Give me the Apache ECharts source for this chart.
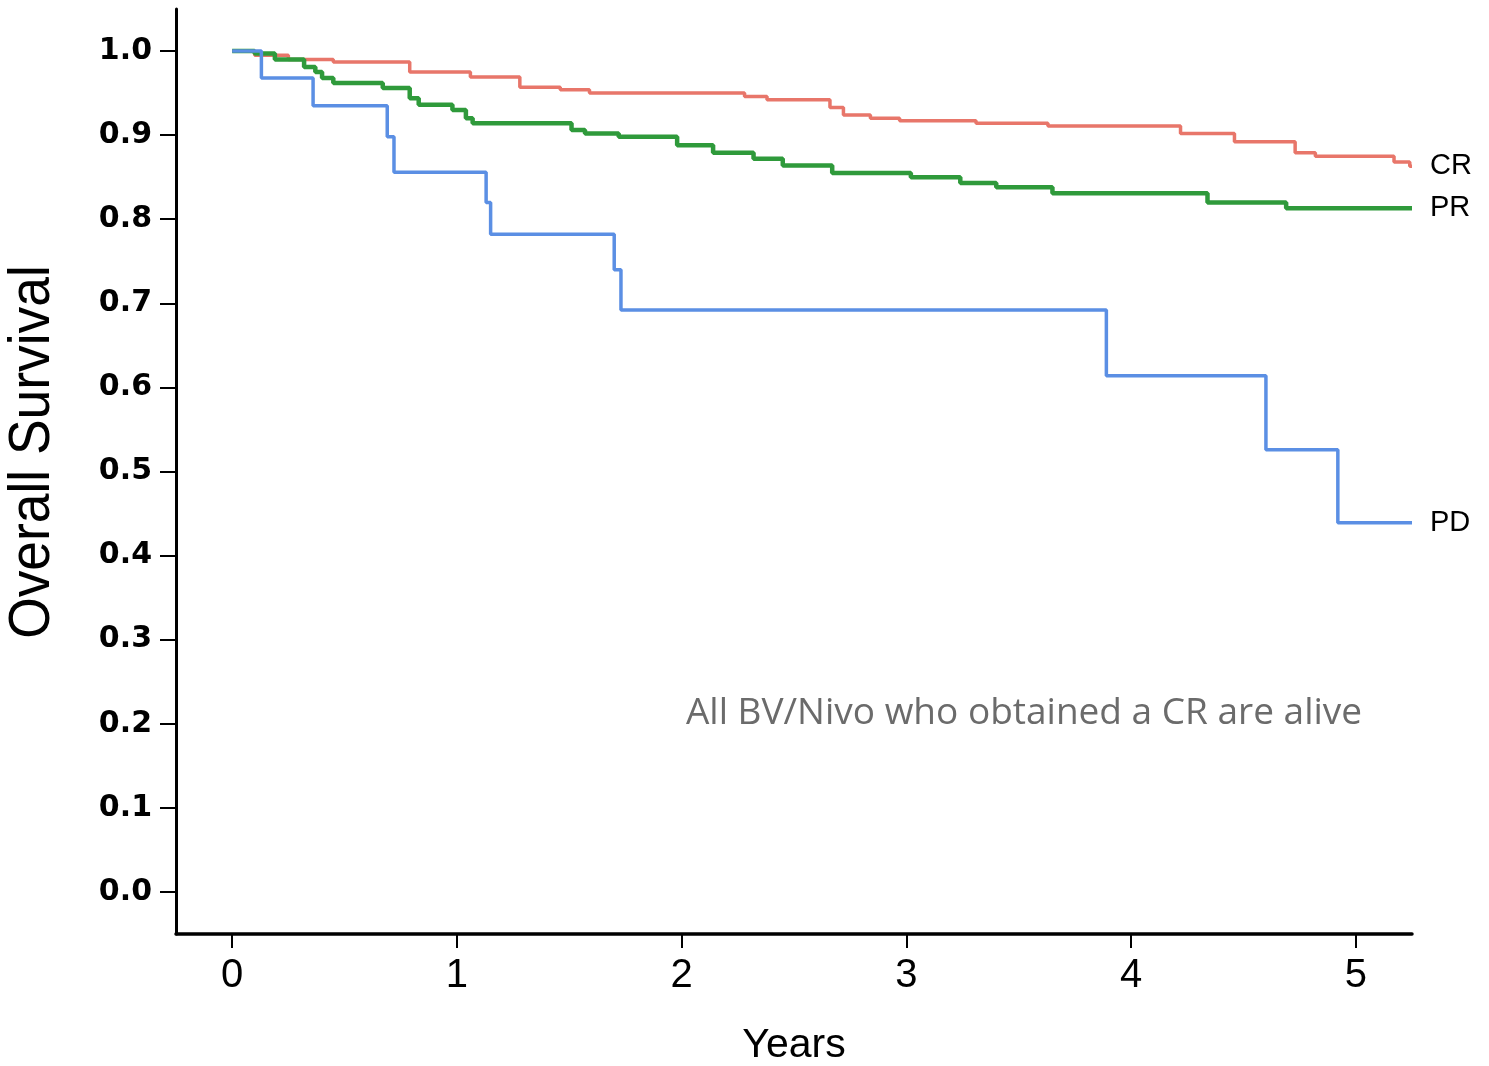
<!DOCTYPE html>
<html>
<head>
<meta charset="utf-8">
<script src="https://cdn.jsdelivr.net/npm/echarts@6/dist/echarts.min.js"></script>
<style>
html, body { margin: 0; padding: 0; background: #fff; }
#main { width: 1489px; height: 1066px; }
</style>
</head>
<body>
<div id="main"></div>
<script>
// Kaplan-Meier curves (years, survival)
var crTimes = [0, 0.10, 0.25, 0.45, 0.79, 1.06, 1.28, 1.46, 1.59, 2.28, 2.38, 2.66, 2.72, 2.84, 2.97, 3.31, 3.63, 4.22, 4.46, 4.73, 4.82, 5.17, 5.24, 5.25];
var crSurv  = [1.0, 0.995, 0.99, 0.987, 0.975, 0.969, 0.957, 0.954, 0.95, 0.946, 0.942, 0.933, 0.924, 0.92, 0.917, 0.914, 0.911, 0.902, 0.892, 0.879, 0.875, 0.868, 0.863, 0.863];

var prTimes = [0, 0.10, 0.19, 0.32, 0.37, 0.40, 0.45, 0.67, 0.79, 0.83, 0.98, 1.04, 1.07, 1.51, 1.57, 1.72, 1.98, 2.14, 2.32, 2.45, 2.67, 3.02, 3.24, 3.40, 3.65, 4.34, 4.69, 5.25];
var prSurv  = [1.0, 0.997, 0.99, 0.981, 0.975, 0.968, 0.962, 0.956, 0.944, 0.936, 0.93, 0.92, 0.914, 0.906, 0.902, 0.898, 0.888, 0.879, 0.872, 0.864, 0.855, 0.85, 0.843, 0.838, 0.831, 0.82, 0.813, 0.813];

var pdTimes = [0, 0.13, 0.36, 0.69, 0.72, 1.13, 1.15, 1.70, 1.73, 3.89, 4.60, 4.92, 5.25];
var pdSurv  = [1.0, 0.968, 0.935, 0.898, 0.856, 0.82, 0.782, 0.74, 0.692, 0.614, 0.526, 0.439, 0.439];

var xTicks = [0, 1, 2, 3, 4, 5];
var yTicks = [0, 0.1, 0.2, 0.3, 0.4, 0.5, 0.6, 0.7, 0.8, 0.9, 1.0];

function pairs(t, s) {
	var out = [];
	for (var i = 0; i < t.length; i++) {
		out.push([t[i], s[i]]);
	}
	return out;
}

function kmSeries(name, t, s, color, width) {
	return {
		name : name,
		type : 'line',
		step : 'end',
		symbol : 'none',
		silent : true,
		lineStyle : { color : color, width : width },
		endLabel : {
			show : true,
			formatter : name,
			distance : 18,
			color : '#000',
			fontSize : 29,
			fontFamily : 'Liberation Sans, Arial, sans-serif'
		},
		data : pairs(t, s)
	};
}

var chart = echarts.init(document.getElementById('main'));
chart.setOption({
	animation : false,
	grid : { left : 176, right : 77, top : 9, bottom : 132, outerBoundsMode : 'none', containLabel : false },
	xAxis : {
		type : 'value',
		min : -0.25,
		max : 5.25,
		splitLine : { show : false },
		axisLine : { onZero : false, lineStyle : { color : '#000', width : 3.5 } },
		axisTick : {
			customValues : xTicks,
			length : 14,
			lineStyle : { color : '#000', width : 2 }
		},
		axisLabel : {
			customValues : xTicks,
			margin : 22,
			color : '#000',
			fontSize : 40,
			fontFamily : 'Liberation Sans, sans-serif'
		},
		name : 'Years',
		nameLocation : 'middle',
		nameGap : 91,
		nameTextStyle : {
			color : '#000',
			fontSize : 41,
			fontFamily : 'Liberation Sans, sans-serif'
		}
	},
	yAxis : {
		type : 'value',
		min : -0.05,
		max : 1.05,
		splitLine : { show : false },
		axisLine : { onZero : false, lineStyle : { color : '#000', width : 3 } },
		axisTick : {
			customValues : yTicks,
			length : 16,
			lineStyle : { color : '#000', width : 2 }
		},
		axisLabel : {
			customValues : yTicks,
			margin : 24,
			color : '#000',
			fontSize : 30,
			fontWeight : 'bold',
			fontFamily : 'DejaVu Sans, sans-serif',
			formatter : function(v) { return v.toFixed(1); }
		}
	},
	graphic : [ {
		type : 'text',
		x : 33,
		y : 452,
		rotation : Math.PI / 2,
		scaleX : 0.92,
		style : {
			text : 'Overall Survival',
			fill : '#000',
			fontSize : 58,
			fontFamily : 'Liberation Sans, sans-serif',
			align : 'center',
			verticalAlign : 'middle'
		}
	}, {
		type : 'text',
		x : 1024,
		y : 713,
		style : {
			text : 'All BV/Nivo who obtained a CR are alive',
			fill : '#6b6b6b',
			fontSize : 37,
			fontFamily : 'Open Sans, Noto Sans, sans-serif',
			align : 'center',
			verticalAlign : 'middle'
		}
	} ],
	series : [
		kmSeries('CR', crTimes, crSurv, '#e8766a', 3.5),
		kmSeries('PR', prTimes, prSurv, '#2f9a3b', 4.5),
		kmSeries('PD', pdTimes, pdSurv, '#5b8fe4', 3.5)
	]
});
</script>
</body>
</html>
